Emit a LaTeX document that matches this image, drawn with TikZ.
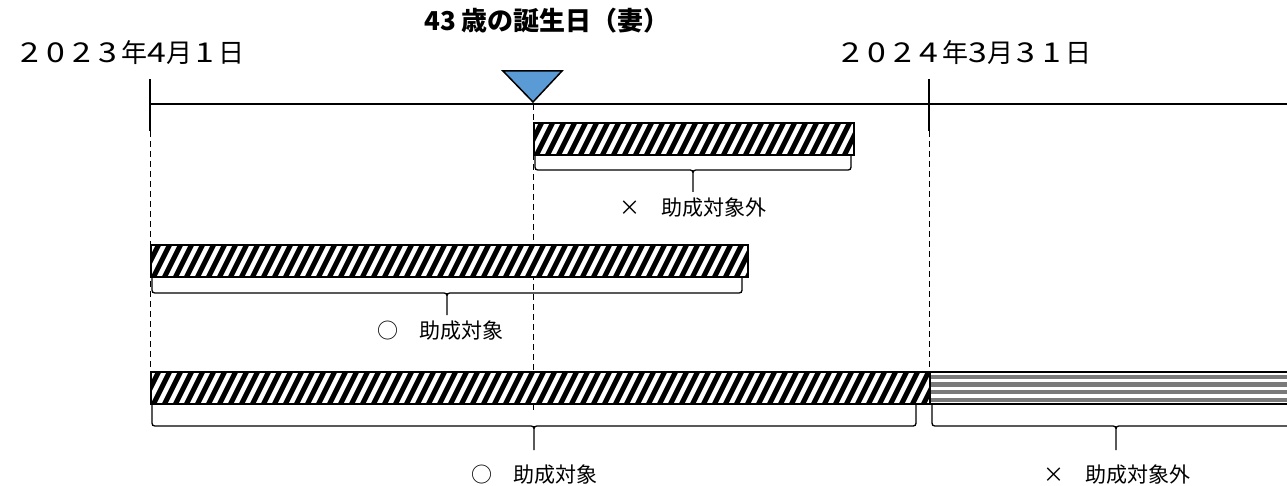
\documentclass[tikz,border=0pt]{standalone}
\usepackage{fontspec}
\newfontfamily\cjk{Noto Sans CJK JP}
\usetikzlibrary{calc}
\definecolor{tri}{HTML}{5B9BD5}
\definecolor{stripegray}{HTML}{7A7A7A}
\newcommand{\fdig}[1]{\makebox[26pt][c]{\scalebox{1.3}[1.05]{#1}}}
\newcommand{\hdig}[1]{\makebox[19pt][c]{\scalebox{1.3}[1.05]{#1}}}
\newcommand{\UBrace}[5]{% x1, x2, ytop, yh, ytip
  \draw[bracestyle] (#1,#3) -- (#1,#4-6) .. controls (#1,#4) .. (#1+6,#4)
    -- ({(#1+#2)/2-6},#4) .. controls ({(#1+#2)/2},#4) .. ({(#1+#2)/2},#4+6) -- ({(#1+#2)/2},#5)
    ({(#1+#2)/2},#4+6) .. controls ({(#1+#2)/2},#4) .. ({(#1+#2)/2+6},#4)
    -- (#2-6,#4) .. controls (#2,#4) .. (#2,#4-6) -- (#2,#3);}
\begin{document}
\begin{tikzpicture}[x=1pt,y=-1pt,
  hatchbar/.style={draw=black, line width=2pt, inner sep=0pt, anchor=north west,
    minimum height=32pt, fill=white,
    path picture={\foreach \i in {-3,...,80}{\draw[line width=5pt]
      ($(path picture bounding box.south west)+(\i*11pt,-5pt)$) -- ++(21pt,42pt);}}},
  stripebar/.style={draw=black, line width=2pt, inner sep=0pt, anchor=north west,
    minimum height=32pt, fill=white,
    path picture={\foreach \j in {0,...,3}{\draw[stripegray,line width=4.4pt]
      ($(path picture bounding box.north west)+(-5pt,-5pt-\j*7.6pt)$) -- ++(600pt,0pt);}}},
  bracestyle/.style={line width=1.3pt, black},
  dashline/.style={line width=0.9pt, dash pattern=on 6pt off 4pt},
  tick/.style={line width=1.6pt},
  datetxt/.style={font=\cjk\fontsize{26}{26}\selectfont, inner sep=0pt, anchor=west},
  lbl/.style={font=\cjk\fontsize{21}{21}\selectfont, inner sep=0pt},
  titletxt/.style={font=\cjk\bfseries\fontsize{26}{26}\selectfont, inner sep=0pt}]
\useasboundingbox (0,0) rectangle (1287,486);
\clip (0,0) rectangle (1287,486);

% texts
\node[titletxt] (title) at (547,21) {43 歳の誕生日（妻）};
\node[datetxt] (d1) at (17,53) {\fdig{2}\fdig{0}\fdig{2}\fdig{3}年\hdig{4}月\fdig{1}日};
\node[datetxt] (d2) at (838,53) {\fdig{2}\fdig{0}\fdig{2}\fdig{4}年\hdig{3}月\fdig{3}\fdig{1}日};

% timeline
\coordinate (t0) at (150,104);
\coordinate (tend) at (1290,104);
\coordinate (t0top) at (150,79);
\coordinate (t0bot) at (150,131);
\coordinate (t1top) at (929,79);
\coordinate (t1bot) at (929,131);
\coordinate (bd) at (533,104);
\draw[line width=2pt] (t0) -- (tend);
\draw[tick] (t0top) -- (t0bot);
\draw[tick] (t1top) -- (t1bot);

% dashed guides (behind the bars)
\coordinate (g0) at (150,371);
\coordinate (g1) at (533,412);
\coordinate (g2) at (929,371);
\draw[dashline] (t0bot) -- (g0);
\draw[dashline] (bd) -- (g1);
\draw[dashline] (t1bot) -- (g2);

% bars
\node[hatchbar, minimum width=320pt] (b1) at (533,122) {};
\node[hatchbar, minimum width=597pt] (b2) at (150,244) {};
\node[hatchbar, minimum width=779pt] (b3) at (150,371) {};
\node[stripebar, minimum width=420pt] (b4) at (929,371) {};

% birthday marker
\draw[fill=tri, line width=1.5pt, line join=miter] (503,71) -- (562,71) -- (533,102) -- cycle;

% braces
\UBrace{535}{851}{155}{170}{192}
\UBrace{152}{742}{278}{293}{315}
\UBrace{152}{916}{405}{426}{450}
\UBrace{932}{1300}{405}{426}{450}

% labels
\node[lbl] (l1) at (693,208) {×　助成対象外};
\node[lbl] (l2) at (440,331) {○　助成対象};
\node[lbl] (l3) at (534,475) {○　助成対象};
\node[lbl] (l4) at (1117,475) {×　助成対象外};
\end{tikzpicture}
\end{document}
